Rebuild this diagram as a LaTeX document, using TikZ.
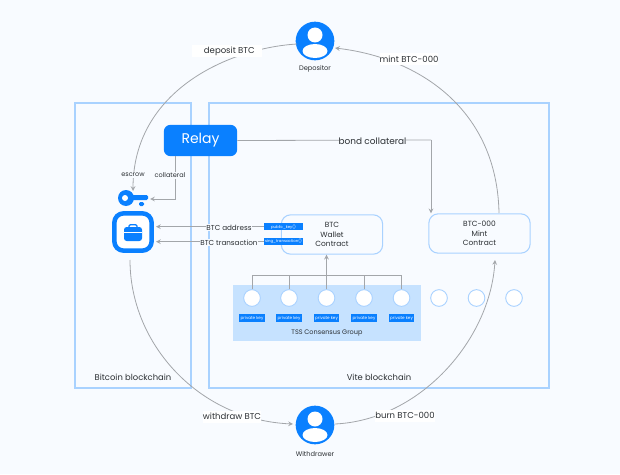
\documentclass[tikz,border=0pt]{standalone}
\usepackage{fontspec}
\setmainfont{Poppins}
\usetikzlibrary{arrows,shapes}
\usetikzlibrary{positioning}
\usetikzlibrary{calc}
\definecolor{pagebg}{HTML}{F8FBFF}
\definecolor{vblue}{HTML}{0A80FF}
\definecolor{paleblue}{HTML}{A9D2FF}
\definecolor{groupblue}{HTML}{C6E2FF}
\definecolor{wire}{HTML}{A3A6AA}
\definecolor{ink}{HTML}{2B2F33}
\tikzset{
	>=stealth,
	chain/.style={draw=paleblue, line width=0.8pt},
	contract/.style={draw=paleblue, line width=0.8pt, rounded corners=7pt, fill=pagebg, align=center,
		text=ink, font=\fontsize{5.6}{7.2}\selectfont, minimum width=76pt, minimum height=29.5pt, inner sep=0pt},
	wire/.style={draw=wire, line width=0.6pt},
	wirearrow/.style={draw=wire, line width=0.6pt, ->},
	flowlabel/.style={fill=white, text=ink, font=\fontsize{6.4}{8}\selectfont, inner ysep=1pt, inner xsep=0pt, minimum height=9pt},
	sidelabel/.style={fill=pagebg, text=ink, font=\fontsize{6.3}{8}\selectfont, inner sep=0.6pt},
	smalllabel/.style={text=ink, font=\fontsize{5}{6}\selectfont, inner sep=0pt},
	method/.style={fill=vblue, text=white, font=\fontsize{2.9}{4}\selectfont, minimum width=29.3pt, minimum height=5pt, inner sep=0pt},
	keytag/.style={fill=vblue, text=white, font=\fontsize{3.1}{4}\selectfont, minimum width=19pt, minimum height=5.4pt, inner sep=0pt},
	member/.style={circle, draw=paleblue, line width=0.7pt, fill=white, minimum size=12.5pt, inner sep=0pt},
	user/.style={circle, fill=vblue, minimum size=29pt, inner sep=0pt},
}
\begin{document}
\begin{tikzpicture}[x=0.75pt, y=-0.75pt]
	\useasboundingbox (0,0) rectangle (620,474);
	\fill[pagebg] (0,0) rectangle (620,474);
	% blockchains
	\draw[chain] (75,103) rectangle (191,388);
	\draw[chain] (209,103) rectangle (549,388);
	\node[sidelabel] (bitcoin) at (133,377) {Bitcoin blockchain};
	\node[sidelabel] (vite) at (379,377) {Vite blockchain};
	% tss group
	\fill[groupblue] (233,285) rectangle (421,341);
	\node[smalllabel, font=\fontsize{4.9}{6}\selectfont] (tss) at (327,333.5) {TSS Consensus Group};
	\foreach \name/\x in {a/252,b/289,c/326.5,d/364,e/401.5} {
		\node[member] (m\name) at (\x,298) {};
		\node[keytag] (k\name) at (\x,318) {private key};
	}
	\node[member] (mf) at (439,298) {};
	\node[member] (mg) at (476.5,298) {};
	\node[member] (mh) at (514,298) {};
	% contracts
	\node[contract] (wallet) at (332,234.5) {BTC\\Wallet\\Contract};
	\node[contract] (mint) at (479.5,233.5) {BTC-000\\Mint\\Contract};
	\node[method] (pubkey) at (283.5,226.7) {public\_key()};
	\node[method] (signtx) at (283.5,241.7) {sing\_transaction()};
	% relay
	\node[fill=vblue, rounded corners=5pt, text=white, font=\fontsize{10.5}{14}\selectfont,
		minimum width=55pt, minimum height=23.5pt, inner sep=0pt] (relay) at (200.5,140.5) {\raisebox{-1.5pt}{Relay}};
	% users
	\node[user] (depositor) at (315,41) {};
	\node[user] (withdrawer) at (315,425) {};
	\foreach \u in {depositor,withdrawer} {
		\begin{scope}
			\clip (\u.center) circle (19);
			\fill[white] ($(\u.center)+(0,-6)$) circle (7.5);
			\fill[white] ($(\u.center)+(0,10)$) ellipse (12.5 and 7);
		\end{scope}
	}
	\node[smalllabel] (deplabel) at (315,68.5) {Depositor};
	\node[smalllabel] (withlabel) at (315,453.5) {Withdrawer};
	% key and wallet icon
	\coordinate (key) at (150,199);
	\fill[vblue] (126,198) circle (8);
	\fill[vblue, rounded corners=1pt] (130,195) rectangle (148,200);
	\fill[vblue, rounded corners=1pt] (139,202) rectangle (144,206);
	\fill[white] (125,198) circle (3);
	\node[draw=vblue, line width=3.4pt, rounded corners=7pt, fill=white, minimum size=28pt, inner sep=0pt] (vault) at (133,232) {};
	\fill[vblue, rounded corners=2pt] (124,227) rectangle (142,241);
	\draw[vblue, line width=1pt, rounded corners=1pt] (129,227) -- (129,224.7) -- (137,224.7) -- (137,227);
	\draw[white, line width=0.5pt] (124,232.5) -- (142,232.5);
	% connectors
	\draw[wire] (relay.east) -- (431,140) coordinate (bend);
	\node[flowlabel, fill=pagebg, font=\fontsize{6.7}{8}\selectfont] (bond) at (372.5,141) {bond collateral};
	\draw[wirearrow] (bend) -- (mint.north -| bend);
	\coordinate (relayfoot) at (175,156);
	\draw[wirearrow] (relayfoot) |- (key);
	\node[sidelabel, font=\fontsize{4.9}{6}\selectfont] (collateral) at (170,175.5) {collateral};
	\coordinate (escrowend) at (133,191);
	\coordinate (depstart) at (297,44);
	\draw[wirearrow] (depstart) .. controls (230,48) and (133,90) .. (escrowend);
	\node[sidelabel, font=\fontsize{4.9}{6}\selectfont] (escrow) at (133,175) {escrow};
	\node[flowlabel, minimum width=52pt, align=center] (deposit) at (227,51.5) {\ \ deposit BTC};
	\coordinate (depend) at (335,48);
	\coordinate (minttop) at (499,213);
	\draw[wirearrow] (minttop) .. controls (497,110) and (420,58) .. (depend);
	\node[flowlabel] (mintlabel) at (409,59) {mint BTC-000};
	\coordinate (vaultfoot) at (130,260);
	\coordinate (withend) at (293,424);
	\draw[wirearrow] (vaultfoot) .. controls (130,345) and (200,420) .. (withend);
	\node[flowlabel] (withdraw) at (232,416.5) {withdraw BTC};
	\coordinate (withstart) at (335,424);
	\coordinate (mintfoot) at (495,260);
	\draw[wirearrow] (withstart) .. controls (420,420) and (490,340) .. (mintfoot);
	\node[flowlabel] (burn) at (405,415.5) {burn BTC-000};
	\draw[wirearrow] (pubkey.west) -- (156,226.7);
	\node[sidelabel, font=\fontsize{5.4}{6}\selectfont] (address) at (229,227.5) {BTC address};
	\draw[wirearrow] (signtx.west) -- (156,241.7);
	\node[sidelabel, font=\fontsize{5.4}{6}\selectfont] (transaction) at (229,242.5) {BTC transaction};
	% tss tree
	\coordinate (trunk) at (326.5,275);
	\draw[wirearrow] (mc.north) -- (wallet.south -| mc);
	\draw[wire] (ma.north) |- (me.north |- trunk) -- (me.north);
	\draw[wire] (mb.north) -- (mb.north |- trunk);
	\draw[wire] (md.north) -- (md.north |- trunk);
\end{tikzpicture}
\end{document}
